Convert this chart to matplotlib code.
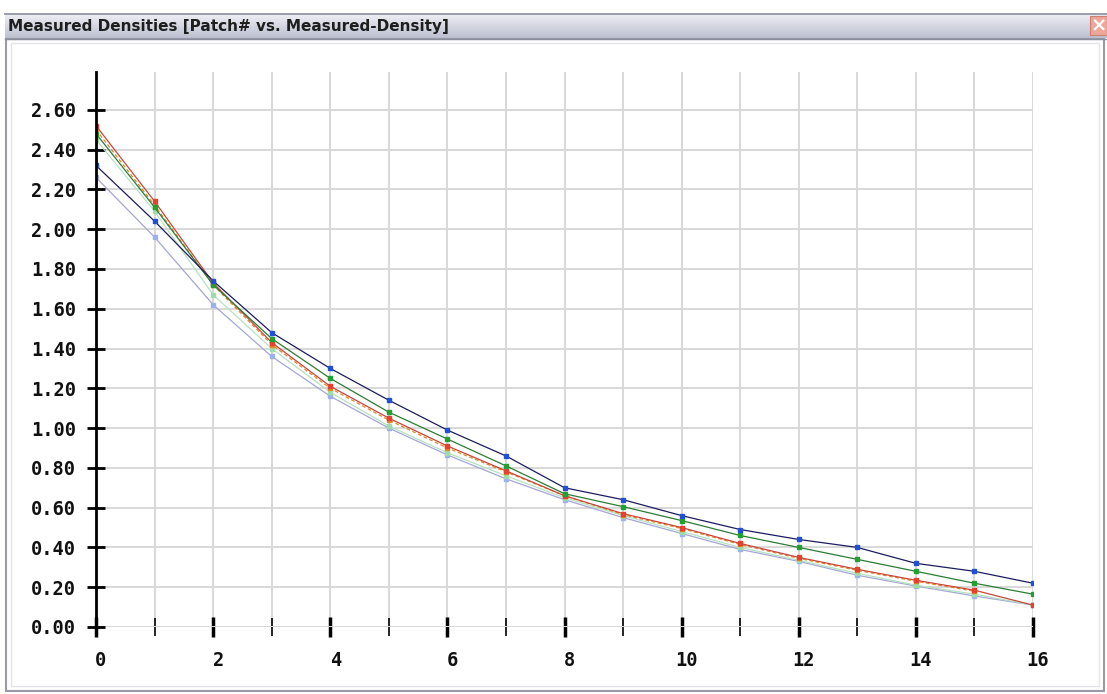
import numpy as np
import matplotlib
matplotlib.use('Agg')
import matplotlib.pyplot as plt
from matplotlib.ticker import MultipleLocator, FormatStrFormatter
import matplotlib.patches as patches
import matplotlib.transforms as mtransforms

# patch numbers
patch_no = list(range(17))

# measured densities, one list per channel
dens_blue = [2.32, 2.04, 1.74, 1.48, 1.30, 1.14, 0.99, 0.86, 0.70, 0.64, 0.56, 0.49, 0.44, 0.40, 0.32, 0.28, 0.22]
dens_green = [2.48, 2.11, 1.72, 1.45, 1.25, 1.08, 0.945, 0.81, 0.67, 0.605, 0.535, 0.46, 0.40, 0.34, 0.28, 0.22, 0.165]
dens_red = [2.52, 2.14, 1.73, 1.43, 1.21, 1.05, 0.91, 0.785, 0.66, 0.57, 0.50, 0.42, 0.35, 0.29, 0.235, 0.185, 0.11]
dens_orange = [2.50, 2.12, 1.72, 1.42, 1.20, 1.04, 0.90, 0.78, 0.66, 0.565, 0.495, 0.415, 0.345, 0.285, 0.23, 0.18]
dens_ltgreen = [2.45, 2.09, 1.67, 1.40, 1.18, 1.01, 0.876, 0.76, 0.65, 0.56, 0.48, 0.40, 0.335, 0.27, 0.21, 0.165, 0.11]
dens_lavender = [2.26, 1.96, 1.62, 1.36, 1.16, 1.00, 0.865, 0.745, 0.64, 0.55, 0.47, 0.39, 0.33, 0.26, 0.206, 0.156, 0.11]

title_text = 'Measured Densities [Patch# vs. Measured-Density]'

W, H = 1107, 694
fig = plt.figure(figsize=(W / 100, H / 100), dpi=100)
fig.patch.set_facecolor('white')

# window chrome drawn in pixel coords on a background axes
bg = fig.add_axes([0, 0, 1, 1])
bg.set_xlim(0, W)
bg.set_ylim(H, 0)
bg.axis('off')
grad = np.linspace(0, 1, 50).reshape(-1, 1)
bg.imshow(grad, extent=(5, W, 38, 14), cmap=matplotlib.colors.LinearSegmentedColormap.from_list(
    'tb', ['#eeeef4', '#bcc0d0']), aspect='auto', zorder=1)
bg.plot([5, W], [13.5, 13.5], color='#8a8e9e', lw=1.2, zorder=2)
bg.plot([5, W], [38.5, 38.5], color='#8a8e9e', lw=1.0, zorder=2)
bg.add_patch(patches.Rectangle((6, 39), W - 9, 652, facecolor='white', edgecolor='#9a9aa6', lw=1.5, zorder=1))
bg.add_patch(patches.Rectangle((11, 43), W - 19, 643, facecolor='none', edgecolor='#e4e4ea', lw=1.0, zorder=1))
bg.add_patch(patches.Rectangle((1090, 16), 17, 19, facecolor='#eca69a', edgecolor='#d08070', lw=0.8, zorder=2))
bg.text(1099, 26, '×', color='white', fontsize=14, fontweight='bold', ha='center', va='center', zorder=3)
bg.text(8, 26, title_text, fontsize=11, fontweight='bold', color='#1e1e1e',
        family='DejaVu Sans', ha='left', va='center', zorder=3)

# plotting area
left, right, bottom, top = 96, 1033, 627, 72
ax = fig.add_axes([left / W, (H - bottom) / H, (right - left) / W, (bottom - top) / H])
ax.set_facecolor('none')

series = [
    (dens_lavender, '#a4a6d4', '#9cb0ea', '-'),
    (dens_ltgreen, '#b4e2c4', '#a0dca8', '-'),
    (dens_orange, '#e0882a', '#e0882a', (0, (3, 2))),
    (dens_red, '#c8473a', '#e4412e', '-'),
    (dens_green, '#2c7c34', '#22a032', '-'),
    (dens_blue, '#1c1c5e', '#2250d4', '-'),
]
for vals, lc, mc, ls in series:
    ax.plot(patch_no[:len(vals)], vals, color=lc, lw=0.9, ls=ls, marker='s', markersize=3.2,
            markerfacecolor=mc, markeredgecolor=mc, zorder=3)

ax.set_xlim(0, 16)
ax.set_ylim(0, 2.79)
ax.xaxis.set_major_locator(MultipleLocator(2))
ax.xaxis.set_minor_locator(MultipleLocator(1))
ax.set_yticks(np.arange(0, 2.61, 0.2))
ax.yaxis.set_major_formatter(FormatStrFormatter('%.2f'))

ax.grid(True, which='both', axis='x', color='#d8d8d8', lw=1.4, zorder=0)
ax.grid(True, which='major', axis='y', color='#d8d8d8', lw=1.4, zorder=0)
for s in ['top', 'right', 'bottom']:
    ax.spines[s].set_visible(False)
ax.spines['left'].set_linewidth(2.0)
ax.spines['left'].set_zorder(4)

ax.tick_params(axis='y', direction='inout', length=13, width=2, pad=8, colors='black')
ax.tick_params(axis='x', which='major', direction='inout', length=15, width=2.5, pad=10)
ax.tick_params(axis='x', which='minor', direction='inout', length=13, width=1.2)
for lab in ax.get_xticklabels() + ax.get_yticklabels():
    lab.set_family('DejaVu Sans Mono')
    lab.set_fontweight('bold')
    lab.set_fontsize(13.5)
    lab.set_color('#111111')
# labels in the original sit a few pixels right of their ticks
shift = mtransforms.ScaledTranslation(5 / 100, 0, fig.dpi_scale_trans)
for lab in ax.get_xticklabels():
    lab.set_transform(lab.get_transform() + shift)

fig.savefig('out.png', dpi=100)
